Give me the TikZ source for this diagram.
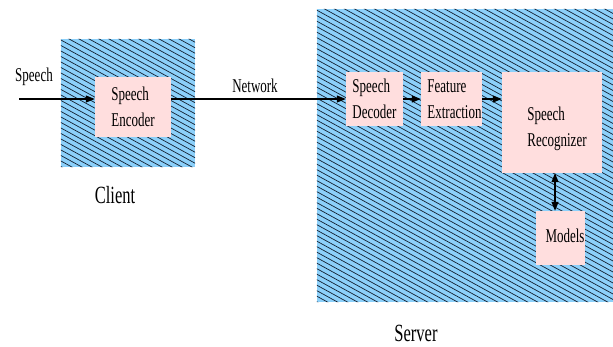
\documentclass[tikz,border=0pt]{standalone}
\usepackage{fontspec}
\setmainfont{Liberation Serif}
\usetikzlibrary{arrows.meta}
\newcommand{\vstr}[1]{\scalebox{1}[1.5]{#1}}
\definecolor{patblue}{RGB}{140,208,250}
\definecolor{boxpink}{RGB}{255,222,222}
\definecolor{hatchc}{RGB}{20,32,48}
\begin{document}
\begin{tikzpicture}[x=1pt,y=-1pt,
  region/.style={fill=patblue, draw=none, inner sep=0pt},
  proc/.style={fill=boxpink, draw=none, inner sep=0pt, align=left, font=\fontsize{13}{26}\selectfont},
  txt/.style={inner sep=0pt, align=left, font=\fontsize{13}{26}\selectfont},
  tip/.style={Triangle[length=9pt,width=7pt]},
  conn/.style={line width=1.1pt, -{Triangle[length=9pt,width=7pt]}},
  lbl/.style={font=\fontsize{13}{15}\selectfont, inner sep=0pt},
  biglbl/.style={font=\fontsize{16.5}{18}\selectfont, inner sep=0pt}]
\useasboundingbox (0,0) rectangle (613,347);

% hatched regions
\node[region, minimum width=134pt, minimum height=128pt] (client) at (128,103) {};
\node[region, minimum width=296pt, minimum height=293pt] (server) at (465,155.5) {};
\begin{scope}
  \clip (client.north west) rectangle (client.south east)
        (server.north west) rectangle (server.south east);
  \foreach \c in {-340,-334.5,...,360}
    \draw[hatchc, line width=0.7pt] (0,\c) -- (613,\c+337);
\end{scope}

% processing boxes
\node[proc, minimum width=76pt, minimum height=60pt] (enc) at (133,107) {\vstr{Speech}\\\vstr{Encoder}};
\node[proc, minimum width=57pt, minimum height=54pt] (dec) at (374.5,99) {\vstr{Speech}\\\vstr{Decoder}};
\node[proc, minimum width=61pt, minimum height=54pt] (feat) at (451.5,99) {};
\node[txt] (featt) at (454.5,99) {\vstr{Feature}\\\vstr{Extraction}};
\node[proc, minimum width=100pt, minimum height=101pt] (rec) at (552,122.5) {};
\node[txt] (rect) at (557,129) {\vstr{Speech}\\\vstr{Recognizer}};
\node[proc, minimum width=49pt, minimum height=54pt] (models) at (560.5,238) {};
\node[txt] (modt) at (565,236) {\vstr{Models}};

% connectors
\coordinate (src) at (19,99);
\draw[conn] (src) -- (src -| enc.west);
\draw[conn] (enc.east |- src) -- (dec.west |- src);
\draw[conn] (dec.east |- src) -- (feat.west |- src);
\draw[conn] (feat.east |- src) -- (rec.west |- src);
\draw[line width=1.1pt, {Triangle[length=9pt,width=7pt]}-{Triangle[length=9pt,width=7pt]}]
  ([xshift=3pt]rec.south) -- ([xshift=3pt]rec.south |- models.north);

% labels
\node[lbl] (lspeech) at (34,77) {\vstr{Speech}};
\node[lbl] (lnet) at (255,86) {\vstr{Network}};
\node[biglbl] (lclient) at (115,195) {\vstr{Client}};
\node[biglbl] (lserver) at (416,333) {\vstr{Server}};
\end{tikzpicture}
\end{document}
